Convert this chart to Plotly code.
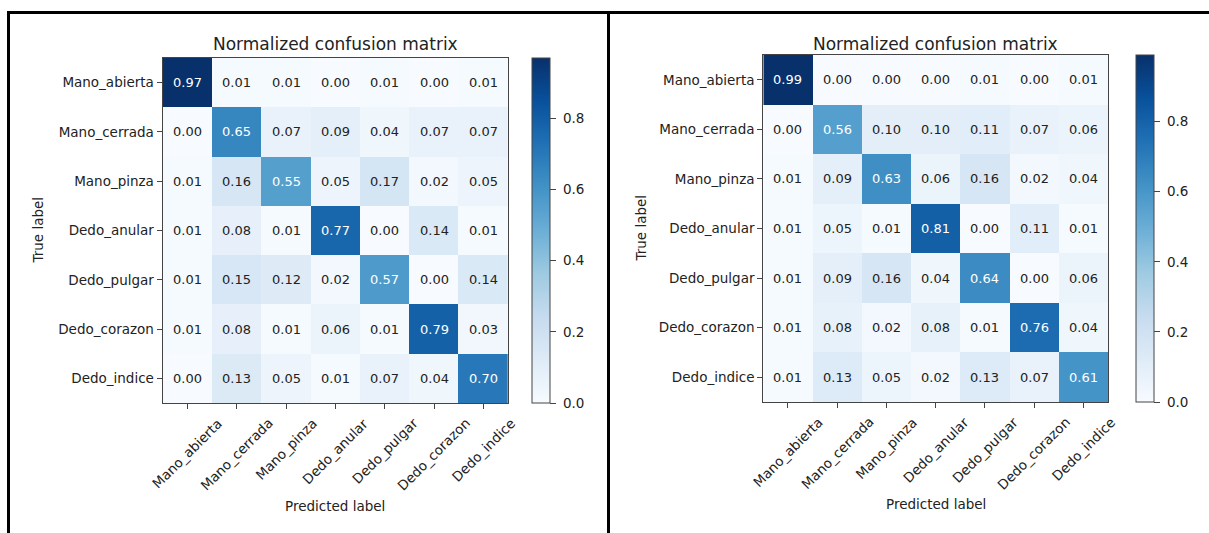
import plotly.graph_objects as go

# Class names (rows = true label, columns = predicted label)
classes = ["Mano_abierta", "Mano_cerrada", "Mano_pinza", "Dedo_anular",
           "Dedo_pulgar", "Dedo_corazon", "Dedo_indice"]

# Normalized confusion matrix, first model
cm_left = [
    [0.97, 0.01, 0.01, 0.00, 0.01, 0.00, 0.01],
    [0.00, 0.65, 0.07, 0.09, 0.04, 0.07, 0.07],
    [0.01, 0.16, 0.55, 0.05, 0.17, 0.02, 0.05],
    [0.01, 0.08, 0.01, 0.77, 0.00, 0.14, 0.01],
    [0.01, 0.15, 0.12, 0.02, 0.57, 0.00, 0.14],
    [0.01, 0.08, 0.01, 0.06, 0.01, 0.79, 0.03],
    [0.00, 0.13, 0.05, 0.01, 0.07, 0.04, 0.70],
]

# Normalized confusion matrix, second model
cm_right = [
    [0.99, 0.00, 0.00, 0.00, 0.01, 0.00, 0.01],
    [0.00, 0.56, 0.10, 0.10, 0.11, 0.07, 0.06],
    [0.01, 0.09, 0.63, 0.06, 0.16, 0.02, 0.04],
    [0.01, 0.05, 0.01, 0.81, 0.00, 0.11, 0.01],
    [0.01, 0.09, 0.16, 0.04, 0.64, 0.00, 0.06],
    [0.01, 0.08, 0.02, 0.08, 0.01, 0.76, 0.04],
    [0.01, 0.13, 0.05, 0.02, 0.13, 0.07, 0.61],
]

colorbar_ticks = [0.0, 0.2, 0.4, 0.6, 0.8]

W, H = 1209, 533
FONT = "DejaVu Sans"
TXT = "#222222"
SPINE = "#444444"
TICK_SIZE = 13.5
CELL_SIZE = 13
TITLE_SIZE = 17

# ColorBrewer "Blues" (same stops as matplotlib's Blues colormap)
blues = ["#f7fbff", "#deebf7", "#c6dbef", "#9ecae1", "#6baed6",
         "#4292c6", "#2171b5", "#08519c", "#08306b"]
blues_scale = [[i / (len(blues) - 1), c] for i, c in enumerate(blues)]


def px_x(v):
    return v / W


def px_y(v):
    return 1 - v / H


# panel geometry in pixels: heatmap box (left, top, right, bottom), colorbar left
panels = [
    dict(cm=cm_left, box=(162.7, 58.0, 508.0, 403.0), cb_left=532.0,
         title_y=44, xlab_y=506, ylab_x=37),
    dict(cm=cm_right, box=(763.3, 55.0, 1108.0, 402.0), cb_left=1135.5,
         title_y=44, xlab_y=504, ylab_x=640),
]

fig = go.Figure()
annotations = []

for i, p in enumerate(panels, start=1):
    cm = p["cm"]
    l, t, r, b = p["box"]
    flat = [v for row in cm for v in row]
    vmin, vmax = min(flat), max(flat)
    xa = "x" if i == 1 else f"x{i}"
    ya = "y" if i == 1 else f"y{i}"

    fig.add_trace(go.Heatmap(
        z=cm, x=classes, y=classes,
        xaxis=xa, yaxis=ya,
        zmin=vmin, zmax=vmax,
        colorscale=blues_scale,
        hoverinfo="skip",
        colorbar=dict(
            x=px_x(p["cb_left"]), xanchor="left",
            y=px_y(t), yanchor="top",
            len=(b - t) / H, lenmode="fraction",
            thickness=18, thicknessmode="pixels",
            xpad=0, ypad=0,
            outlinewidth=1, outlinecolor=SPINE,
            tickvals=colorbar_ticks,
            ticktext=[f" {v:.1f}" for v in colorbar_ticks],
            ticks="outside", ticklen=6, tickcolor=SPINE,
            tickfont=dict(family=FONT, size=TICK_SIZE, color=TXT),
        ),
    ))

    axis_common = dict(
        type="category", automargin=False,
        showgrid=False, zeroline=False,
        showline=True, mirror=True, linecolor=SPINE, linewidth=1.2,
        ticks="outside", ticklen=5, tickcolor=SPINE, tickwidth=1,
        tickfont=dict(family=FONT, size=TICK_SIZE, color=TXT),
    )
    fig.layout[f"xaxis{'' if i == 1 else i}"] = dict(
        axis_common, domain=[px_x(l), px_x(r)], anchor=ya,
        showticklabels=False, range=[-0.5, 6.5],
    )
    fig.layout[f"yaxis{'' if i == 1 else i}"] = dict(
        axis_common, domain=[px_y(b), px_y(t)], anchor=xa,
        range=[6.5, -0.5],
    )

    # predicted-class labels, rotated 45 degrees and centred on each tick
    for name in classes:
        annotations.append(dict(
            x=name, xref=xa, y=px_y(b + 9), yref="paper",
            text=name, showarrow=False, textangle=-45,
            xanchor="center", yanchor="top",
            font=dict(family=FONT, size=TICK_SIZE, color=TXT),
        ))

    # cell values, white on dark cells
    thresh = vmax / 2
    for ri, row in enumerate(cm):
        for ci, v in enumerate(row):
            annotations.append(dict(
                x=classes[ci], y=classes[ri], xref=xa, yref=ya,
                text=f"{v:.2f}", showarrow=False,
                font=dict(family=FONT, size=CELL_SIZE,
                          color="white" if v > thresh else TXT),
            ))

    cx = (l + r) / 2
    annotations.append(dict(
        x=px_x(cx), y=px_y(p["title_y"]), xref="paper", yref="paper",
        text="Normalized confusion matrix", showarrow=False,
        font=dict(family=FONT, size=TITLE_SIZE, color=TXT),
        xanchor="center", yanchor="middle",
    ))
    annotations.append(dict(
        x=px_x(cx), y=px_y(p["xlab_y"]), xref="paper", yref="paper",
        text="Predicted label", showarrow=False,
        font=dict(family=FONT, size=TICK_SIZE, color=TXT),
        xanchor="center", yanchor="middle",
    ))
    annotations.append(dict(
        x=px_x(p["ylab_x"]), y=px_y((t + b) / 2), xref="paper", yref="paper",
        text="True label", showarrow=False, textangle=-90,
        font=dict(family=FONT, size=TICK_SIZE, color=TXT),
        xanchor="center", yanchor="middle",
    ))

# black frame around and between the two panels
frame = dict(type="line", xref="paper", yref="paper",
             line=dict(color="black", width=3))
shapes = [
    dict(frame, x0=px_x(7), x1=1, y0=px_y(12.5), y1=px_y(12.5)),
    dict(frame, x0=px_x(8.5), x1=px_x(8.5), y0=px_y(11), y1=0),
    dict(frame, x0=px_x(608.5), x1=px_x(608.5), y0=px_y(11), y1=0),
]

fig.update_layout(
    width=W, height=H,
    margin=dict(l=0, r=0, t=0, b=0, autoexpand=False),
    paper_bgcolor="white", plot_bgcolor="white",
    showlegend=False,
    annotations=annotations,
    shapes=shapes,
    font=dict(family=FONT, color=TXT),
)

fig.write_html("out.html")
